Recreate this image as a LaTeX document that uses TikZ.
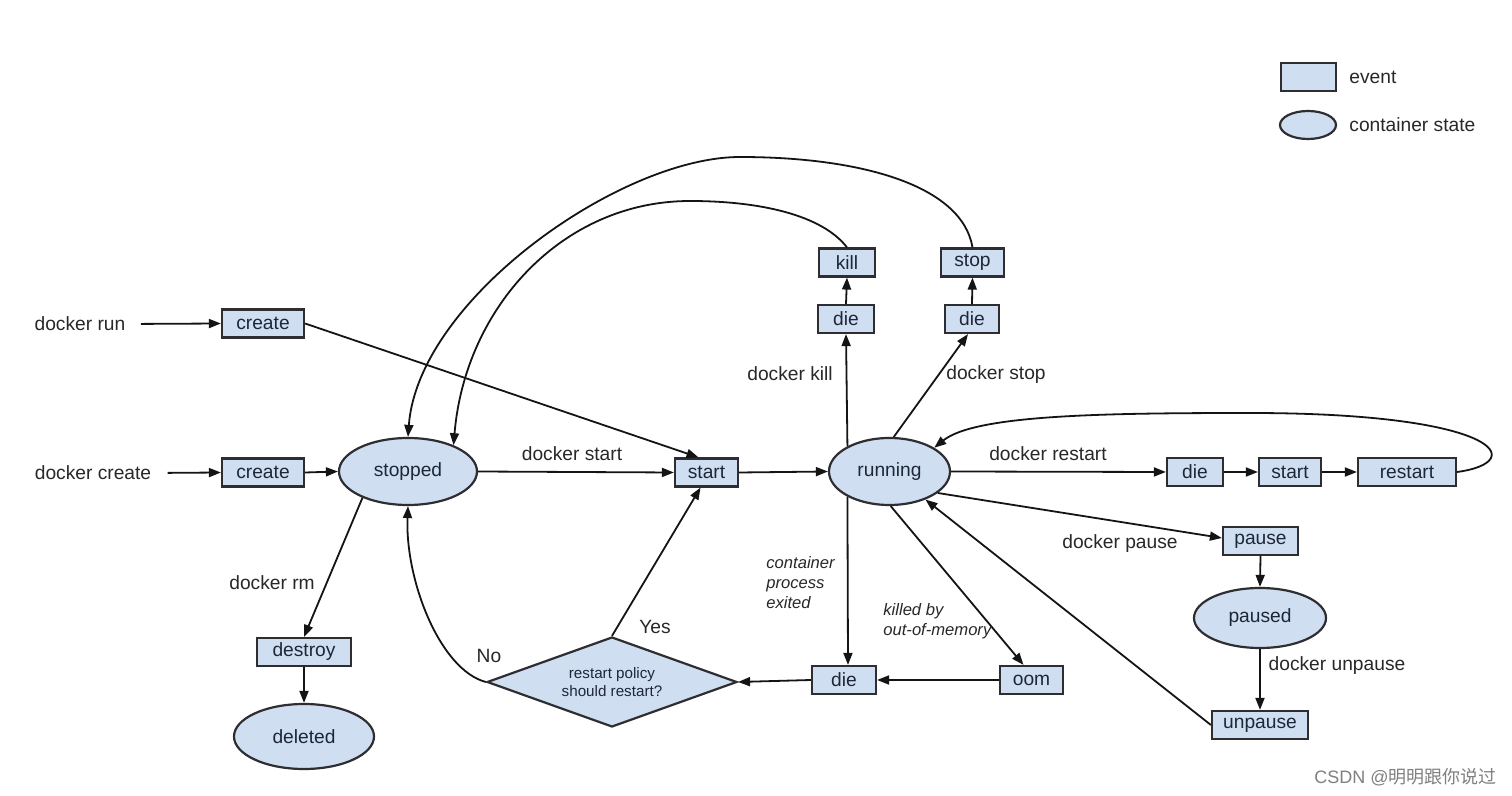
\documentclass[tikz,border=0pt]{standalone}
\usepackage{fontspec}
\setmainfont{Liberation Sans}
\newfontfamily\cjkfont{Noto Sans CJK SC}
\usetikzlibrary{shapes.geometric,arrows.meta}
\definecolor{boxfill}{RGB}{207,223,241}
\definecolor{boxdraw}{RGB}{45,45,50}
\definecolor{boxtext}{RGB}{30,38,58}
\definecolor{labtext}{RGB}{40,40,40}
\definecolor{linecol}{RGB}{20,20,20}
\begin{document}
\begin{tikzpicture}[x=0.5pt,y=-0.5pt,
  ev/.style={draw=boxdraw, fill=boxfill, line width=1.1pt, inner sep=0pt, minimum height=14pt, text=boxtext, font=\fontsize{9.6}{11.5}\selectfont},
  st/.style={ellipse, draw=boxdraw, fill=boxfill, line width=1.1pt, inner sep=0pt, text=boxtext, font=\fontsize{9.6}{11.5}\selectfont},
  lab/.style={text=labtext, font=\fontsize{9.6}{11.5}\selectfont, inner sep=0pt},
  itl/.style={text=labtext, font=\fontsize{8.3}{10}\selectfont\itshape, align=left, inner sep=0pt},
  arr/.style={draw=linecol, line width=0.9pt, -{Triangle[length=6pt,width=4.5pt]}}]
\useasboundingbox[fill=white] (0,0) rectangle (1512,796);

% legend
\node[ev, minimum width=27.5pt] (legev) at (1308.5,77) {};
\node[lab, anchor=west] (legevt) at (1349,77) {event};
\node[st, minimum width=28pt, minimum height=14pt] (legst) at (1308,125) {};
\node[lab, anchor=west] (legstt) at (1349,125) {container state};

% nodes
\node[lab] (drun) at (80,324) {docker run};
\node[lab] (dcreate) at (93,473) {docker create};
\node[ev, minimum width=41pt] (create1) at (263,323.5) {create};
\node[ev, minimum width=41pt] (create2) at (263,472.5) {create};
\node[st, minimum width=69pt, minimum height=33.5pt] (stopped) at (408,471.5) {stopped};
\node[ev, minimum width=31.5pt] (start) at (706.5,472.5) {start};
\node[st, minimum width=60.5pt, minimum height=33.5pt] (running) at (889.5,471.5) {running};
\node[ev, minimum width=28pt] (kill) at (847,262.5) {kill};
\node[ev, minimum width=28pt] (die1) at (846,319) {die};
\node[ev, minimum width=31.5pt] (stop) at (972.5,262.5) {stop};
\node[ev, minimum width=27pt] (die2) at (972,319) {die};
\node[ev, minimum width=28pt] (die3) at (1195,472) {die};
\node[ev, minimum width=31pt] (start2) at (1290,472) {start};
\node[ev, minimum width=49pt] (restart) at (1407,472) {restart};
\node[ev, minimum width=37.5pt] (pause) at (1260.5,541) {pause};
\node[st, minimum width=66pt, minimum height=30pt] (paused) at (1260,618) {paused};
\node[ev, minimum width=48pt] (unpause) at (1260,725) {unpause};
\node[ev, minimum width=31.5pt] (oom) at (1031.5,680) {oom};
\node[ev, minimum width=32pt] (die4) at (844,680) {die};
\node[diamond, shape aspect=2.78, draw=boxdraw, fill=boxfill, line width=1.1pt, minimum width=125pt, minimum height=45pt, inner sep=0pt, align=center, text=boxtext, font=\fontsize{7.6}{9}\selectfont] (policy) at (612,682) {restart policy\\should restart?};
\node[ev, minimum width=47pt] (destroy) at (304,652) {destroy};
\node[st, minimum width=70pt, minimum height=32.5pt] (deleted) at (304,736.5) {deleted};

% connectors
\draw[arr, shorten <=7.5pt] (drun.east) -- (create1.west);
\draw[arr, shorten <=8pt] (dcreate.east) -- (create2.west);
\draw[arr] (create2.east) -- (stopped.west);
\draw[arr] (create1.east) -- ([xshift=-4pt]start.north);
\draw[arr] (stopped.east) -- (start.west);
\draw[arr] (start.east) -- (running.west);
\draw[arr] (running.149) -- (die1.south);
\draw[arr] (die1.north) -- (kill.south);
\draw[arr] (running.83) -- ([xshift=-2pt]die2.south);
\draw[arr] (die2.north) -- (stop.south);
\draw[arr] (kill.north) .. controls (822,215) and (760,201) .. (690,201)
                        .. controls (562,201) and (465,308) .. (stopped.30);
\draw[arr] (stop.north) .. controls (962,185) and (860,157) .. (740,157)
                        .. controls (620,157) and (418,300) .. (stopped.north);
\draw[arr] (running.east) -- (die3.west);
\draw[arr] (die3.east) -- (start2.west);
\draw[arr] (start2.east) -- (restart.west);
\draw[arr] (restart.east) .. controls (1530,462) and (1500,413) .. (1250,413)
                          .. controls (1100,413) and (975,415) .. (running.28);
\draw[arr] (running.-24) -- ([yshift=1.5pt]pause.west);
\draw[arr] (pause.south) -- (paused.north);
\draw[arr] (paused.south) -- (unpause.north);
\draw[arr] (unpause.west) -- (running.-38);
\draw[arr] (running.-149) -- ([xshift=2pt]die4.north);
\draw[arr] (running.-88) -- ([xshift=-4pt]oom.north);
\draw[arr] (oom.west) -- (die4.east);
\draw[arr] (die4.west) -- (policy.east);
\draw[arr] (policy.north) -- ([xshift=-3pt]start.south);
\draw[arr] (policy.west) .. controls (440,670) and (405,580) .. (stopped.south);
\draw[arr] (stopped.-150) -- (destroy.north);
\draw[arr] (destroy.south) -- (deleted.north);

% labels
\node[lab] (lstart) at (572,454) {docker start};
\node[lab] (lkill) at (790,374) {docker kill};
\node[lab] (lstop) at (996,375) {docker stop};
\node[lab] (lrestart) at (1048,454) {docker restart};
\node[lab] (lpause) at (1120,544) {docker pause};
\node[lab] (lunpause) at (1337,666) {docker unpause};
\node[lab] (lrm) at (272,583) {docker rm};
\node[lab] (lyes) at (655,627) {Yes};
\node[lab] (lno) at (489,656) {No};
\node[itl, anchor=west] (lexit) at (766,583) {container\\process\\exited};
\node[itl, anchor=west] (loom) at (883,621) {killed by\\out-of-memory};

\node[anchor=east, inner sep=0pt, text=gray, font=\fontsize{9}{10}\selectfont] (wm) at (1497,777) {CSDN @{\cjkfont 明明跟你说过}};
\end{tikzpicture}
\end{document}
